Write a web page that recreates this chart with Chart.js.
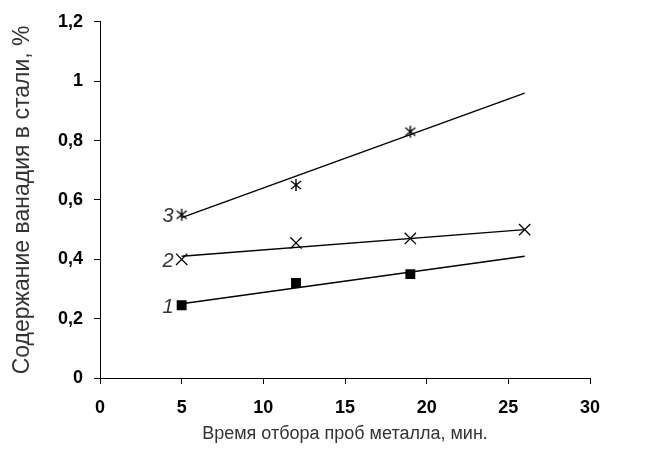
<!DOCTYPE html>
<html>
<head>
<meta charset="utf-8">
<script src="https://cdn.jsdelivr.net/npm/chart.js@4/dist/chart.umd.min.js"></script>
<style>
  html, body { margin: 0; padding: 0; background: #fff; }
  #wrap { width: 659px; height: 453px; }
</style>
</head>
<body>
<div id="wrap"><canvas id="chart"></canvas></div>
<script>
"use strict";

// Measured points (time, min / vanadium, %)
let times = [5, 12, 19, 26];
let series1 = [0.245, 0.32, 0.35];
let series2 = [0.40, 0.455, 0.47, 0.50];
let series3 = [0.55, 0.65, 0.83];

// Trend lines (start and end)
let trendX = [5, 26];
let trend1 = [0.25, 0.41];
let trend2 = [0.41, 0.50];
let trend3 = [0.54, 0.96];

let seriesNames = ["1", "2", "3"];
let yTicks = [0, 0.2, 0.4, 0.6, 0.8, 1, 1.2];

function toPoints(xs, ys) {
    return ys.map(function (v, i) { return { x: xs[i], y: v }; });
}

// asterisk marker: X with a vertical stroke
let star = document.createElement("canvas");
star.width = 14;
star.height = 14;
let sc = star.getContext("2d");
sc.strokeStyle = "#000";
sc.lineWidth = 1.4;
sc.beginPath();
sc.moveTo(2, 3); sc.lineTo(12, 11);
sc.moveTo(12, 3); sc.lineTo(2, 11);
sc.moveTo(7, 1); sc.lineTo(7, 13);
sc.stroke();

let sans = "'Liberation Sans', Arial, sans-serif";

// number labels to the left of the first point of each series
let seriesLabels = {
    id: "seriesLabels",
    afterDatasetsDraw(chart) {
        let ctx = chart.ctx;
        ctx.save();
        ctx.font = "italic 20px " + sans;
        ctx.fillStyle = "#333";
        ctx.textAlign = "right";
        ctx.textBaseline = "middle";
        [0, 1, 2].forEach(function (i) {
            let p = chart.getDatasetMeta(i).data[0];
            ctx.fillText(seriesNames[i], p.x - 8, p.y + 2);
        });
        ctx.restore();
    }
};

let tickFont = { family: sans, size: 18, weight: "bold" };

new Chart(document.getElementById("chart"), {
    type: "scatter",
    data: {
        datasets: [
            { data: toPoints(times, series1), pointStyle: "rect", pointRadius: 7, backgroundColor: "#000", borderColor: "#000", borderWidth: 0, showLine: false },
            { data: toPoints(times, series2), pointStyle: "crossRot", pointRadius: 8, borderColor: "#000", borderWidth: 1.3, showLine: false },
            { data: toPoints(times, series3), pointStyle: star, showLine: false },
            { data: toPoints(trendX, trend1), showLine: true, pointRadius: 0, borderColor: "#000", borderWidth: 1.4 },
            { data: toPoints(trendX, trend2), showLine: true, pointRadius: 0, borderColor: "#000", borderWidth: 1.4 },
            { data: toPoints(trendX, trend3), showLine: true, pointRadius: 0, borderColor: "#000", borderWidth: 1.4 }
        ]
    },
    options: {
        responsive: true,
        maintainAspectRatio: false,
        animation: false,
        layout: { padding: { top: 18, right: 69, left: 0, bottom: 0 } },
        plugins: { legend: { display: false }, tooltip: { enabled: false } },
        scales: {
            x: {
                type: "linear",
                min: 0, max: 30,
                ticks: { stepSize: 5, color: "#000", font: tickFont, padding: 13, maxRotation: 0 },
                grid: { display: true, drawOnChartArea: false, drawTicks: true, tickLength: 6, color: "#000" },
                border: { color: "#000", width: 1 },
                title: { display: true, text: "Время отбора проб металла, мин.", color: "#333", font: { family: sans, size: 18 }, padding: { top: 0, bottom: 8 } },
                afterFit(scale) { scale.height = 75; }
            },
            y: {
                type: "linear",
                min: 0, max: 1.2,
                afterBuildTicks(scale) { scale.ticks = yTicks.map(function (v) { return { value: v }; }); },
                ticks: {
                    color: "#000", font: tickFont, padding: 11,
                    callback: function (v) { return String(v).replace(".", ","); }
                },
                grid: { display: true, drawOnChartArea: false, drawTicks: true, tickLength: 6, color: "#000" },
                border: { color: "#000", width: 1 },
                title: { display: true, text: "Содержание ванадия в стали, %", color: "#333", font: { family: sans, size: 23 }, padding: { top: 9, bottom: 0 } },
                afterFit(scale) { scale.width = 100; }
            }
        }
    },
    plugins: [seriesLabels]
});
</script>
</body>
</html>
